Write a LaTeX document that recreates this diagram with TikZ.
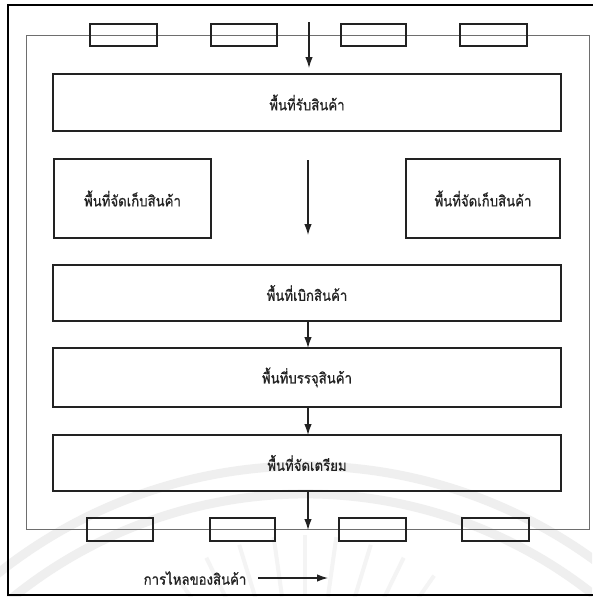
\documentclass[tikz,border=0pt]{standalone}
\usepackage{fontspec}
\newfontfamily\thaifont[Script=Thai,FakeBold=0.8,FakeStretch=0.88]{Loma}
\usetikzlibrary{arrows.meta}
\definecolor{ink}{HTML}{222222}
\definecolor{wall}{HTML}{6E6E6E}
\definecolor{mark}{HTML}{EFEFEF}
\definecolor{rays}{HTML}{F4F4F4}
\newcommand{\labelfont}{\thaifont\fontsize{15}{18}\selectfont}
\tikzset{
  zone/.style={draw=ink, line width=1.2pt, minimum width=508pt, outer sep=0pt,
               inner sep=0pt, font=\labelfont, text=ink},
  store/.style={zone, minimum width=156pt, minimum height=79pt},
  door/.style={draw=ink, line width=1.1pt},
  flow/.style={draw=ink, line width=1.2pt, -{Latex[length=11pt,width=7.5pt]}},
  wallline/.style={draw=wall, line width=1pt},
  frame/.style={draw=black, line width=2pt},
  watermark/.style={draw=mark, line width=9pt}
}
\begin{document}
\begin{tikzpicture}[x=1pt, y=-1pt]
  \useasboundingbox (0,0) rectangle (592,597);
  \fill[white] (0,0) rectangle (592,597);

  % faint emblem in the background
  \begin{scope}
    \clip (0,0) rectangle (592,597);
    \draw[watermark] (305,958) ++(-150:492) arc[start angle=-150, end angle=-30, radius=492];
    \draw[watermark] (305,958) ++(-150:464) arc[start angle=-150, end angle=-30, radius=464];
    \foreach \a in {-125,-116,-107,-98,-90,-82,-73,-64,-55}
      \draw[draw=rays, line width=4pt] (305,760) ++(\a:165) -- ++(\a:60);
  \end{scope}

  % outer frame
  \draw[frame] (8,5) rectangle (594,595);

  % building outline
  \draw[wallline] (26,35) rectangle (589,529);

  % loading doors, top side
  \foreach \xa/\xb in {90/157, 211/277, 341/406, 460/527}
    \draw[door] (\xa,24) rectangle (\xb,46);
  % loading doors, bottom side
  \foreach \xa/\xb in {87/153, 210/275, 339/406, 462/529}
    \draw[door] (\xa,518) rectangle (\xb,541);

  % areas
  \node[zone, minimum height=57pt] (recv) at (307,102.5) {พื้นที่รับสินค้า};
  \node[store, minimum width=157pt] (storL) at (132.5,198.5) {พื้นที่จัดเก็บสินค้า};
  \node[store, minimum width=154pt] (storR) at (483,198.5) {พื้นที่จัดเก็บสินค้า};
  \node[zone, minimum height=56pt] (pick) at (307,293) {พื้นที่เบิกสินค้า};
  \node[zone, minimum height=59pt] (pack) at (307,377.5) {พื้นที่บรรจุสินค้า};
  \node[zone, minimum height=56pt] (prep) at (307,463) {พื้นที่จัดเตรียม};

  % flow of goods
  \coordinate (inTop) at (309,22);
  \coordinate (inEnd) at (309,68);
  \coordinate (midTop) at (308,160);
  \coordinate (midEnd) at (308,235);
  \coordinate (outEnd) at (308,530);
  \draw[flow] (inTop) -- (inEnd);
  \draw[flow] (midTop) -- (midEnd);
  \draw[flow] (pick.south -| 308,0) -- (pack.north -| 308,0);
  \draw[flow] (pack.south -| 308,0) -- (prep.north -| 308,0);
  \draw[flow] (prep.south -| 308,0) -- (outEnd);

  % legend
  \node[font=\labelfont, text=ink, inner sep=0pt] (legend) at (195,578) {การไหลของสินค้า};
  \coordinate (legA) at (258,578);
  \coordinate (legB) at (328,578);
  \draw[flow] (legA) -- (legB);
\end{tikzpicture}
\end{document}
